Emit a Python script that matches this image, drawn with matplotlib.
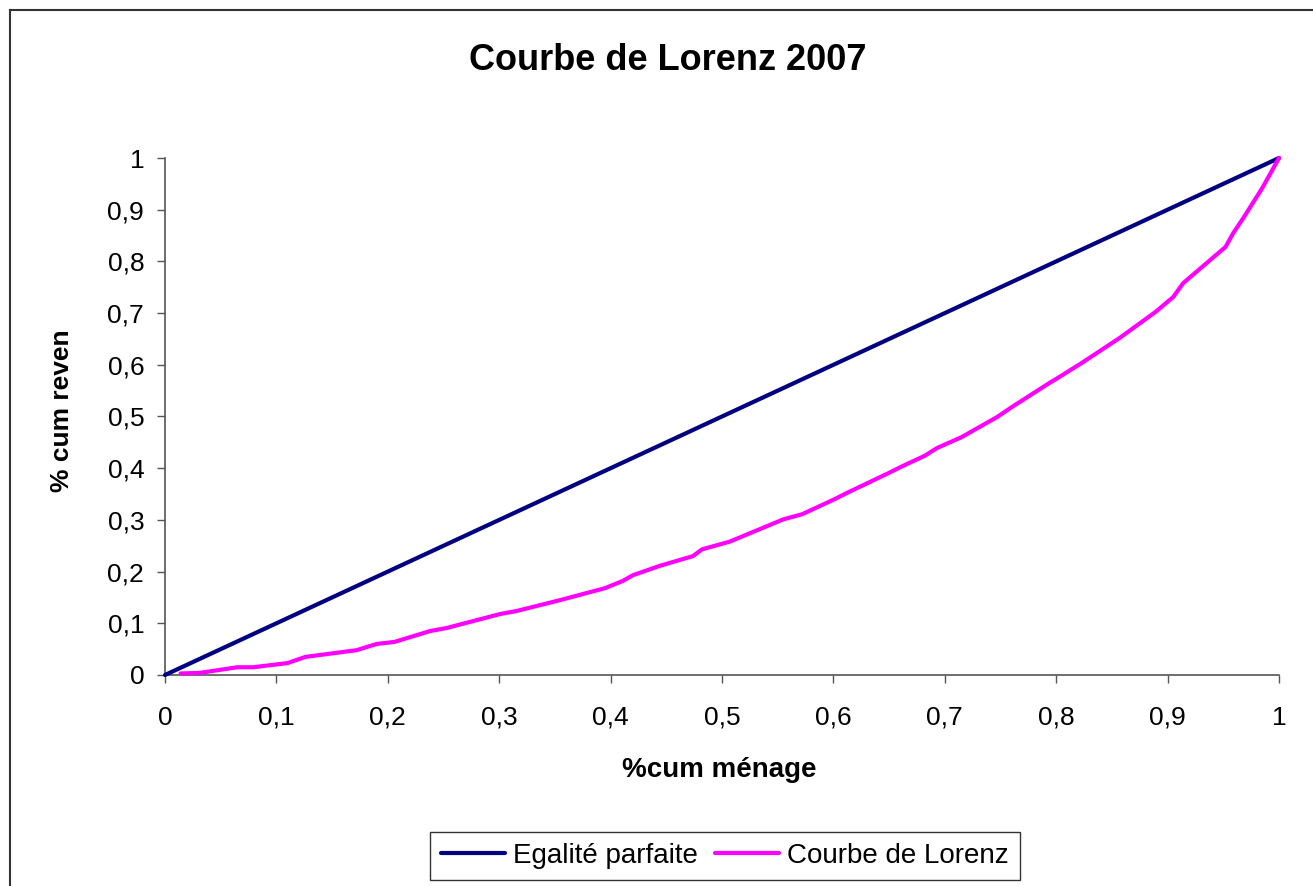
import matplotlib
matplotlib.use("Agg")
import matplotlib.pyplot as plt
from matplotlib.lines import Line2D
from matplotlib.ticker import FuncFormatter, MultipleLocator

# data
egalite_x = [0.0, 1.0]
egalite_y = [0.0, 1.0]

menage_cum = [0.014, 0.031, 0.065, 0.079, 0.110, 0.126, 0.172, 0.190, 0.206, 0.238,
              0.253, 0.301, 0.316, 0.355, 0.395, 0.411, 0.420, 0.444, 0.474, 0.482,
              0.507, 0.555, 0.572, 0.601, 0.612, 0.649, 0.662, 0.682, 0.693, 0.715,
              0.747, 0.760, 0.794, 0.801, 0.824, 0.857, 0.889, 0.905, 0.914, 0.952,
              0.959, 0.968, 0.985, 1.000]
revenu_cum = [0.003, 0.004, 0.015, 0.015, 0.023, 0.035, 0.048, 0.060, 0.064, 0.085,
              0.091, 0.118, 0.124, 0.145, 0.168, 0.182, 0.193, 0.211, 0.230, 0.243,
              0.258, 0.301, 0.311, 0.340, 0.352, 0.390, 0.404, 0.424, 0.439, 0.460,
              0.499, 0.518, 0.565, 0.574, 0.605, 0.652, 0.702, 0.731, 0.758, 0.828,
              0.855, 0.884, 0.942, 1.000]

FONT = ["Liberation Sans", "DejaVu Sans"]
plt.rcParams["font.family"] = FONT

def comma_fmt(v, pos):
    # french decimal separator, like excel
    return f"{v:g}".replace(".", ",")

fig = plt.figure(figsize=(13.13, 8.86), dpi=100)
ax = fig.add_axes([165 / 1313, 1 - 675 / 886, 1114 / 1313, 517 / 886])

ax.plot(egalite_x, egalite_y, color="#000080", lw=3, label="Egalité parfaite",
        clip_on=False, solid_capstyle="round", zorder=3)
ax.plot(menage_cum, revenu_cum, color="#FF00FF", lw=3, label="Courbe de Lorenz",
        clip_on=False, solid_capstyle="round", zorder=3)

ax.set_xlim(0, 1)
ax.set_ylim(0, 1)
ax.xaxis.set_major_locator(MultipleLocator(0.1))
ax.yaxis.set_major_locator(MultipleLocator(0.1))
ax.xaxis.set_major_formatter(FuncFormatter(comma_fmt))
ax.yaxis.set_major_formatter(FuncFormatter(comma_fmt))

for side in ("top", "right"):
    ax.spines[side].set_visible(False)
for side in ("left", "bottom"):
    ax.spines[side].set_color("#555555")
    ax.spines[side].set_linewidth(1.2)

ax.tick_params(axis="both", direction="out", length=6, width=1, color="#555555",
               labelsize=19)
ax.tick_params(axis="x", pad=16)
ax.tick_params(axis="y", pad=9)

# title and axis labels
fig.text(668 / 1313, 1 - 61 / 886, "Courbe de Lorenz 2007", ha="center", va="center",
         fontsize=26, fontweight="bold")
fig.text(719 / 1313, 1 - 770 / 886, "%cum ménage", ha="center", va="center",
         fontsize=20, fontweight="bold")
fig.text(62 / 1313, 1 - 411 / 886, "% cum reven", ha="center", va="center",
         fontsize=19, fontweight="bold", rotation=90)

# legend at the bottom
leg = fig.legend(loc="center", bbox_to_anchor=(725 / 1313, 1 - 856 / 886), ncol=2,
                 fontsize=20, frameon=True, fancybox=False, handlelength=2.3,
                 handletextpad=0.3, columnspacing=0.6, borderpad=0.4)
leg.get_frame().set_edgecolor("black")
leg.get_frame().set_linewidth(1)

# chart border, cropped at the right and bottom edges
x0 = 9.5 / 1313
y0 = 1 - 9.5 / 886
fig.add_artist(Line2D([x0, 1.01], [y0, y0], color="#333333", lw=1.5))
fig.add_artist(Line2D([x0, x0], [y0, -0.01], color="#333333", lw=1.5))

fig.savefig("out.png", dpi=100)
